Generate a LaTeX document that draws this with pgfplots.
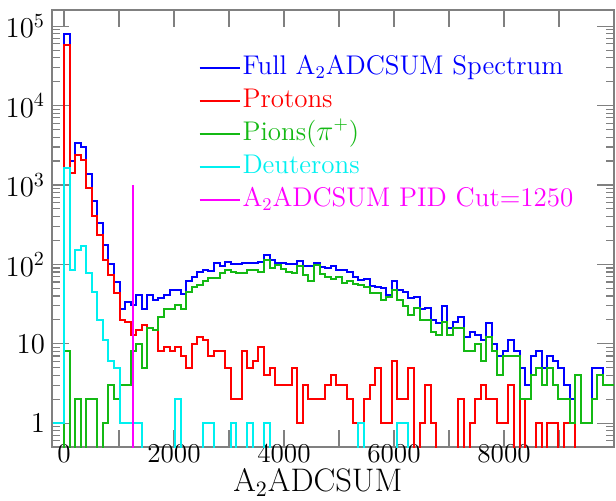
\documentclass[border=0pt]{standalone}
\usepackage{pgfplots}
\pgfplotsset{compat=1.18}
\definecolor{hblue}{RGB}{0,0,255}
\definecolor{hred}{RGB}{255,0,0}
\definecolor{hgreen}{RGB}{20,185,20}
\definecolor{hcyan}{RGB}{0,240,240}
\definecolor{hmag}{RGB}{255,0,255}
\begin{document}
\begin{tikzpicture}
\path[use as bounding box] (0,0) rectangle (308pt,250pt);
\begin{axis}[
  at={(26pt,26.5pt)}, anchor=south west,
  width=281pt, height=218.5pt, scale only axis,
  ymode=log, xmin=-218, xmax=10000, ymin=0.5, ymax=1.6e5,
  scaled x ticks=false,
  xtick={0,1000,2000,3000,4000,5000,6000,7000,8000,9000},
  xticklabels={0,,2000,,4000,,6000,,8000,},
  ytick={1,10,100,1000,10000,100000},
  yticklabels={$1$,$10$,$10^{2}$,$10^{3}$,$10^{4}$,$10^{5}$},
  minor ytick={0.6,0.7,0.8,0.9,2,3,4,5,6,7,8,9,20,30,40,50,60,70,80,90,200,300,400,500,600,700,800,900,2000,3000,4000,5000,6000,7000,8000,9000,20000,30000,40000,50000,60000,70000,80000,90000},
  major tick length=8.5pt, minor tick length=4pt,
  tick style={gray, line width=0.6pt},
  axis line style={gray, line width=0.7pt},
  tick label style={font=\fontsize{13.6}{15}\selectfont},
  xticklabel style={yshift=2.5pt, inner sep=1pt},
  xlabel={A$_2$ADCSUM},
  xlabel style={font=\fontsize{16.3}{18}\selectfont, at={(axis description cs:0.473,0)}, anchor=base, yshift=-22.2pt, inner sep=0pt},
  legend style={at={(axis description cs:0.260,0.906)}, anchor=north west, draw=none, fill=none,
    font=\fontsize{13.5}{16}\selectfont, row sep=0pt, inner sep=0pt,
    nodes={inner sep=1pt, text height=10.3pt, text depth=4.2pt}},
  legend cell align=left,
  legend image code/.code={\draw[#1, line width=1pt] (0pt,0pt) -- (20pt,0pt);},
  every axis plot/.append style={line width=1pt, const plot mark left},
]
% Full spectrum (bin width 101, edges at 101*k)
\addplot[hblue] coordinates {
(-202,0.1)(-101,0.1)(0,80000)(101,2000)(202,3400)(303,3000)(404,1370)(505,620)(606,330)(707,176)(808,101)(909,60)
(1010,27)(1111,34)(1212,31)(1313,41)(1414,27)(1515,41)(1616,36)(1717,38)(1818,41)(1919,47)
(2020,47)(2121,42)(2222,61)(2323,70)(2424,80)(2525,86)(2626,82)(2727,103)(2828,96)(2929,108)
(3030,100)(3131,100)(3232,105)(3333,105)(3434,105)(3535,106)(3636,133)(3737,114)(3838,103)(3939,103)
(4040,100)(4141,100)(4242,110)(4343,96)(4444,96)(4545,103)(4646,92)(4747,90)(4848,94)(4949,84)
(5050,84)(5151,81)(5252,70)(5353,64)(5454,65)(5555,53)(5656,52)(5757,51)(5858,41)(5959,61)
(6060,48)(6161,45)(6262,38)(6363,39)(6464,27)(6565,28)(6666,20)(6767,18)(6868,30)(6969,16)
(7070,19)(7171,22)(7272,12)(7373,14)(7474,13)(7575,11)(7676,18)(7777,10)(7878,7)(7979,8)
(8080,11)(8181,8)(8282,5)(8383,3)(8484,7)(8585,8)(8686,5)(8787,7)(8888,6)(8989,5)
(9090,3)(9191,2)(9292,4)(9393,1)(9494,1)(9595,5)(9696,5)(9797,3)(9898,3)(9999,3)};
\addlegendentry{\textcolor{hblue}{Full A$_2$ADCSUM Spectrum}}
% Protons
\addplot[hred] coordinates {
(-202,0.1)(-101,0.1)(0,58000)(101,1400)(202,2400)(303,2050)(404,920)(505,408)(606,235)(707,114)(808,73)(909,43)
(1010,20)(1111,19)(1212,13)(1313,15)(1414,17)(1515,16)(1616,15)(1717,8)(1818,9)(1919,8)
(2020,9)(2121,7)(2222,5)(2323,10)(2424,12)(2525,11)(2626,7)(2727,8)(2828,8)(2929,5)
(3030,2)(3131,2)(3232,8)(3333,5)(3434,6)(3535,9)(3636,4)(3737,5)(3838,3)(3939,3)
(4040,3)(4141,5)(4242,1)(4343,3)(4444,2)(4545,2)(4646,2)(4747,3)(4848,4)(4949,3)
(5050,3)(5151,2)(5252,1)(5353,0.1)(5454,2)(5555,3)(5656,5)(5757,1)(5858,1)(5959,6)
(6060,2)(6161,2)(6262,5)(6363,0.1)(6464,1)(6565,3)(6666,1)(6767,0.1)(6868,0.1)(6969,0.1)
(7070,0.1)(7171,2)(7272,0.1)(7373,1)(7474,2)(7575,3)(7676,2)(7777,2)(7878,1)(7979,1)
(8080,3)(8181,0.1)(8282,2)(8383,0.1)(8484,0.1)(8585,1)(8686,0.1)(8787,1)(8888,1)(8989,0.1)
(9090,1)(9191,1)(9292,0.1)(9393,0.1)(9494,0.1)(9595,0.1)(9696,0.1)(9797,0.1)(9898,0.1)(9999,0.1)};
\addlegendentry{\textcolor{hred}{Protons}}
% Pions
\addplot[hgreen] coordinates {
(-202,0.1)(-101,0.1)(0,8)(101,0.1)(202,2)(303,0.1)(404,2)(505,2)(606,0.1)(707,1)(808,3)(909,2)
(1010,3)(1111,3)(1212,8)(1313,10)(1414,5)(1515,16)(1616,15)(1717,22)(1818,27)(1919,27)
(2020,31)(2121,27)(2222,45)(2323,52)(2424,55)(2525,61)(2626,67)(2727,67)(2828,78)(2929,84)
(3030,81)(3131,77)(3232,77)(3333,84)(3434,84)(3535,79)(3636,112)(3737,89)(3838,98)(3939,87)
(4040,81)(4141,77)(4242,94)(4343,74)(4444,61)(4545,98)(4646,76)(4747,70)(4848,65)(4949,70)
(5050,59)(5151,62)(5252,57)(5353,55)(5454,52)(5555,43)(5656,43)(5757,36)(5858,39)(5959,47)
(6060,36)(6161,30)(6262,23)(6363,28)(6464,20)(6565,20)(6666,14)(6767,13)(6868,19)(6969,13)
(7070,16)(7171,16)(7272,8)(7373,8)(7474,10)(7575,6)(7676,12)(7777,8)(7878,4)(7979,7)
(8080,7)(8181,7)(8282,2)(8383,2)(8484,4)(8585,5)(8686,3)(8787,5)(8888,3)(8989,2)
(9090,2)(9191,1)(9292,4)(9393,1)(9494,1)(9595,2)(9696,4)(9797,3)(9898,3)(9999,3)};
\addlegendentry{\textcolor{hgreen}{Pions($\pi^{+}$)}}
% Deuterons
\addplot[hcyan] coordinates {
(-202,1)(-101,1)(0,1650)(101,85)(202,150)(303,170)(404,78)(505,45)(606,20)(707,11)(808,6)(909,5)
(1010,1)(1111,1)(1212,1)(1313,1)(1414,0.1)(1515,0.1)(1616,0.1)(1717,0.1)(1818,0.1)(1919,0.1)
(2020,2)(2121,0.1)(2222,0.1)(2323,0.1)(2424,0.1)(2525,1)(2626,1)(2727,0.1)(2828,0.1)(2929,0.1)
(3030,1)(3131,0.1)(3232,0.1)(3333,1)(3434,0.1)(3535,0.1)(3636,1)(3737,0.1)(3838,0.1)(3939,0.1)
(4040,0.1)(4141,0.1)(4242,0.1)(4343,0.1)(4444,0.1)(4545,0.1)(4646,0.1)(4747,0.1)(4848,0.1)(4949,0.1)
(5050,0.1)(5151,0.1)(5252,0.1)(5353,1)(5454,0.1)(5555,0.1)(5656,0.1)(5757,0.1)(5858,0.1)(5959,0.1)
(6060,1)(6161,1)(6262,0.1)(6363,0.1)(6464,0.1)(6565,0.1)(6666,0.1)(6767,0.1)(6868,0.1)(6969,0.1)
(7070,0.1)(9999,0.1)};
\addlegendentry{\textcolor{hcyan}{Deuterons}}
% PID cut
\addplot[hmag, const plot=false, sharp plot] coordinates {(1250,0.3)(1250,1000)};
\addlegendentry{\textcolor{hmag}{A$_2$ADCSUM PID Cut=1250}}
\end{axis}
\end{tikzpicture}
\end{document}
